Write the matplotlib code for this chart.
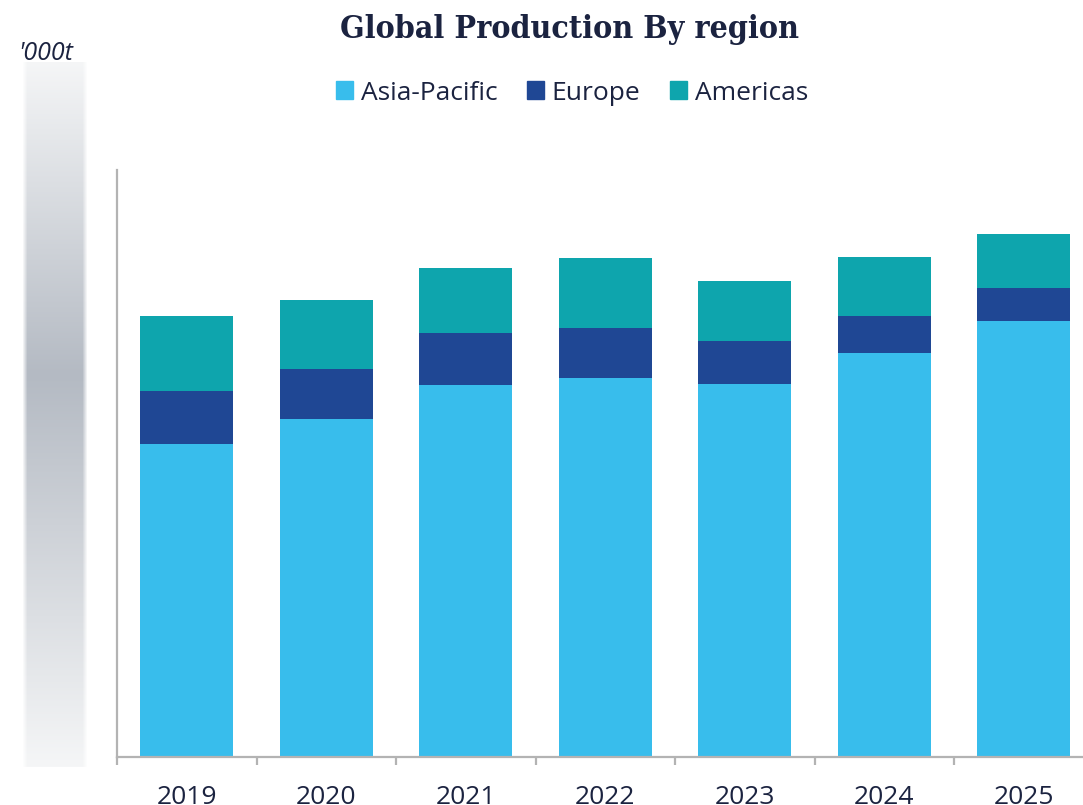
import matplotlib

matplotlib.use("Agg")
import matplotlib.pyplot as plt
import numpy as np
from matplotlib.patches import Patch

# '000t
years = ["2019", "2020", "2021", "2022", "2023", "2024", "2025"]
asia_pacific = [320, 345, 380, 387, 381, 413, 446]
europe = [54, 52, 53, 52, 44, 38, 33]
americas = [77, 70, 67, 71, 62, 60, 56]

NAVY = "#1b2340"
C_ASIA = "#38bdec"
C_EUROPE = "#1f4794"
C_AMERICAS = "#0ea5ad"
AXIS_GREY = "#b3b3b3"
SANS = ["Open Sans", "DejaVu Sans"]

W, H = 1083, 805
fig = plt.figure(figsize=(W / 100, H / 100), dpi=100)
fig.patch.set_facecolor("white")

# soft grey strip on the left
strip = fig.add_axes([23 / W, (H - 767) / H, 64 / W, 705 / H])
rows, cols = 705, 64
yy = np.linspace(0, 1, rows)[:, None]
peak = 313 / 705
dist = np.where(yy < peak, (peak - yy) / peak, (yy - peak) / (1 - peak))
light = np.array([245, 246, 247]) / 255.0
dark = np.array([180, 186, 195]) / 255.0
xx = np.arange(cols)[None, :]
alpha = np.clip(np.minimum(xx + 1, cols - xx) / 5.0, 0, 1)
img = np.zeros((rows, cols, 4))
for c in range(3):
    img[..., c] = dark[c] + (light[c] - dark[c]) * dist
img[..., 3] = alpha * np.ones_like(dist)
strip.imshow(img, aspect="auto", interpolation="bilinear")
strip.axis("off")

ax = fig.add_axes([117 / W, (H - 757) / H, 976.5 / W, 587 / H])
x = np.arange(len(years))
bw = 0.667
bottom2 = np.array(asia_pacific) + np.array(europe)
ax.bar(x, asia_pacific, width=bw, color=C_ASIA, label="Asia-Pacific")
ax.bar(x, europe, width=bw, bottom=asia_pacific, color=C_EUROPE, label="Europe")
ax.bar(x, americas, width=bw, bottom=bottom2, color=C_AMERICAS, label="Americas")

ax.set_xlim(-0.5, len(years) - 0.5)
ax.set_ylim(0, 600)
ax.set_yticks([])
for side in ("top", "right"):
    ax.spines[side].set_visible(False)
for side in ("left", "bottom"):
    ax.spines[side].set_color(AXIS_GREY)
    ax.spines[side].set_linewidth(1.6)

ax.set_xticks(x)
ax.set_xticklabels(years, fontsize=19, color=NAVY, family=SANS)
ax.tick_params(axis="x", which="major", length=0, pad=20)
ax.set_xticks(np.arange(-0.5, len(years) + 0.5, 1), minor=True)
ax.tick_params(axis="x", which="minor", length=6, width=1.6, color=AXIS_GREY)

fig.text(569 / W, (H - 38) / H, "Global Production By region",
         ha="center", va="baseline", fontsize=23, fontweight="bold",
         fontstretch="condensed", family=["DejaVu Serif"], color=NAVY)
fig.text(18 / W, (H - 60) / H, "'000t", ha="left", va="baseline",
         fontsize=18, style="italic", family=SANS, color=NAVY)

handles = [Patch(color=C_ASIA), Patch(color=C_EUROPE), Patch(color=C_AMERICAS)]
leg = fig.legend(handles, ["Asia-Pacific", "Europe", "Americas"],
                 loc="center", bbox_to_anchor=(572 / W, (H - 93) / H),
                 ncol=3, frameon=False, prop={"family": SANS, "size": 19},
                 handlelength=0.65, handleheight=0.65, handletextpad=0.3,
                 columnspacing=1.1, borderaxespad=0)
for t in leg.get_texts():
    t.set_color(NAVY)

fig.savefig("out.png", dpi=100)
